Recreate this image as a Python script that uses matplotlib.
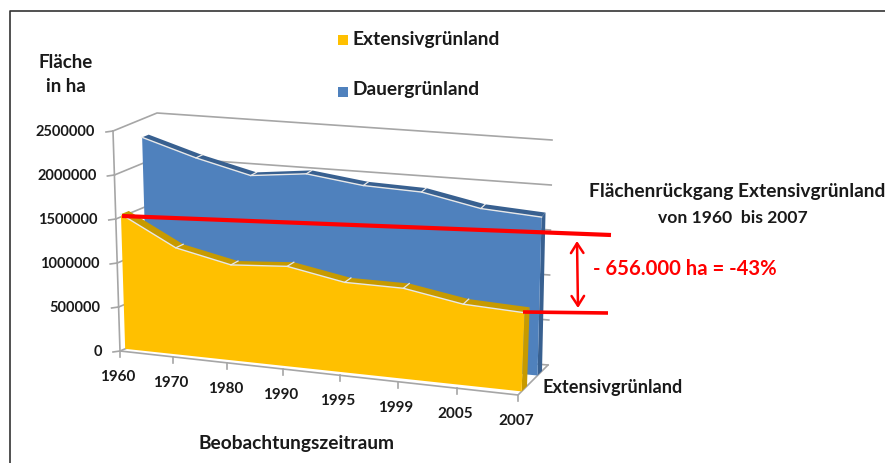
import numpy as np
import matplotlib
matplotlib.use("Agg")
import matplotlib.pyplot as plt

plt.rcParams['font.family'] = ['Lato', 'DejaVu Sans']
plt.rcParams['font.weight'] = 'bold'

years = ["1960", "1970", "1980", "1990", "1995", "1999", "2005", "2007"]
extensiv = [1530000, 1209000, 1078000, 1125000, 1010000, 1010000, 900000, 874000]
dauer = [2295000, 2110000, 1960000, 2030000, 1950000, 1930000, 1800000, 1760000]
yticks = [0, 500000, 1000000, 1500000, 2000000, 2500000]
ymax = 2500000

# corners of the 3d box in pixels: (x, value, depth)
corners = {(0, 0, 0): (120, 351), (0, 1, 0): (113, 131), (0, 0, 1): (163, 333), (0, 1, 1): (157, 113),
           (1, 0, 0): (518, 395), (1, 1, 0): (527, 170), (1, 0, 1): (548, 365), (1, 1, 1): (552, 140)}


def project(i, v, d):
    f = i / (len(years) - 1)
    f = f / (f + (1 - f) * 1.082)  # slight perspective along x
    g = v / ymax
    x = y = 0
    for (a, b, c), (px, py) in corners.items():
        w = (f if a else 1 - f) * (g if b else 1 - g) * (d if c else 1 - d)
        x += w * px
        y += w * py
    return x, y


def band(ax, values, d0, d1, front, dark, z):
    n = len(values)
    # side wall at the right end
    pts = [project(n - 1, values[-1], d0), project(n - 1, values[-1], d1),
           project(n - 1, 0, d1), project(n - 1, 0, d0)]
    ax.fill(*zip(*pts), color=dark, lw=0, zorder=z)
    # top strip
    for i in range(n - 1):
        pts = [project(i, values[i], d0), project(i, values[i], d1),
               project(i + 1, values[i + 1], d1), project(i + 1, values[i + 1], d0)]
        ax.fill(*zip(*pts), color=dark, lw=0, zorder=z)
    for i in range(1, n - 1):
        ax.plot(*zip(project(i, values[i], d0), project(i, values[i], d1)), color="#e8e8e8", lw=0.9, zorder=z + 0.2)
    # front face
    pts = [project(i, values[i], d0) for i in range(n)] + [project(n - 1, 0, d0), project(0, 0, d0)]
    ax.fill(*zip(*pts), color=front, lw=0, zorder=z + 0.1)
    ax.plot(*zip(*[project(i, values[i], d0) for i in range(n)]), color="#e8e8e8", lw=1.0, zorder=z + 0.2)


fig = plt.figure(figsize=(8.85, 4.63), dpi=100)
ax = fig.add_axes([0, 0, 1, 1])
ax.set_xlim(0, 885)
ax.set_ylim(463, 0)
ax.axis("off")

# frame of the picture
ax.plot([9.5, 9.5, 885], [463, 10.5, 10.5], color="#333333", lw=1.2, zorder=1)

grey = "#a6a6a6"
last = len(years) - 1
for v in yticks:
    ax.plot(*zip(project(0, v, 0), project(0, v, 1), project(last, v, 1)), color=grey, lw=1.2, zorder=2)
    x, y = project(0, v, 0)
    ax.plot([x - 7, x], [y + 1, y], color=grey, lw=1.2, zorder=2)
    ax.text(x - 18, y + 1, str(v), ha="right", va="center", fontsize=10.5, color="#1a1a1a")
ax.plot(*zip(project(0, 0, 0), project(0, ymax, 0)), color=grey, lw=1.2, zorder=2)
ax.plot(*zip(project(0, 0, 0), project(last, 0, 0), project(last, 0, 1)), color=grey, lw=1.2, zorder=2)

band(ax, dauer, 0.65, 0.8, "#4f81bd", "#386090", 3)
band(ax, extensiv, 0.12, 0.3, "#ffc000", "#c79a00", 5)

for i, year in enumerate(years):
    x, y = project(i, 0, 0)
    ax.plot([x, x], [y, y + 6], color=grey, lw=1.2, zorder=2)
    ax.text(x - 2, y + 26, year, ha="center", va="center", fontsize=11, color="#1a1a1a")

ax.text(66, 62, "Fläche", ha="center", va="center", fontsize=13.5, color="#1a1a1a")
ax.text(66, 87, "in ha", ha="center", va="center", fontsize=13.5, color="#1a1a1a")
ax.fill([338, 348, 348, 338], [35, 35, 45, 45], color="#ffc000", lw=0)
ax.fill([338, 348, 348, 338], [87, 87, 97, 97], color="#4f81bd", lw=0)
ax.text(352, 39, "Extensivgrünland", ha="left", va="center", fontsize=13.8, color="#1a1a1a")
ax.text(352, 90, "Dauergrünland", ha="left", va="center", fontsize=13.8, color="#1a1a1a")
ax.text(296, 444, "Beobachtungszeitraum", ha="center", va="center", fontsize=13.8, color="#1a1a1a")
ax.text(542, 388, "Extensivgrünland", ha="left", va="center", fontsize=13.1, color="#1a1a1a")
ax.text(737, 192, "Flächenrückgang Extensivgrünland", ha="center", va="center", fontsize=13.8, color="#1a1a1a")
ax.text(733, 218, "von 1960  bis 2007", ha="center", va="center", fontsize=12.6, color="#1a1a1a")
ax.text(593, 269, "- 656.000 ha = -43%", ha="left", va="center", fontsize=14.6, color="#ff0000")

# red annotation lines
ax.plot([122, 611], [216, 235], color="#ff0000", lw=3, zorder=8, solid_capstyle="butt")
ax.plot([523, 608], [312, 313], color="#ff0000", lw=2.6, zorder=8, solid_capstyle="butt")
ax.annotate("", xy=(577, 241), xytext=(578, 308),
            arrowprops=dict(arrowstyle="<->,head_length=0.7,head_width=0.45", color="#ff0000", lw=1.8,
                            shrinkA=0, shrinkB=0), zorder=8)

fig.savefig("out.png", dpi=100)
